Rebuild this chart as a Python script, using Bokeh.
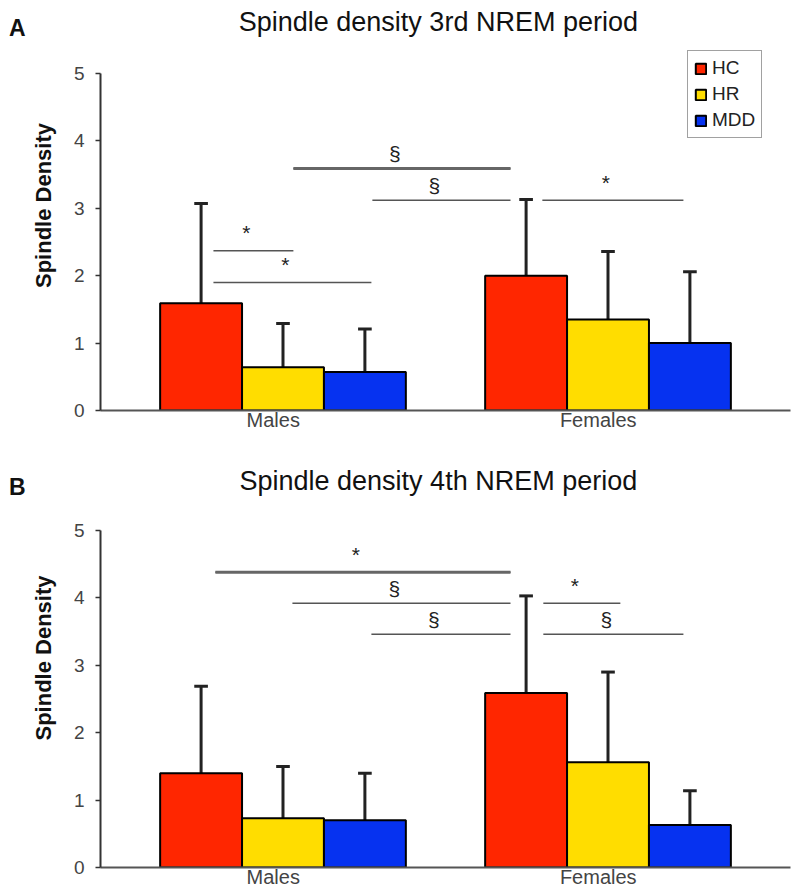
from bokeh.plotting import figure
from bokeh.layouts import column
from bokeh.models import (ColumnDataSource, Legend, LegendItem, FixedTicker,
                          Label, LinearAxis)
from bokeh.core.properties import value
from bokeh.embed import file_html
from bokeh.resources import INLINE

FONT = "Liberation Sans"

groups = ["Males", "Females"]
subgroups = ["HC", "HR", "MDD"]
colors = ["#FF2600", "#FFDD00", "#0632F0"]

# Panel A: 3rd NREM period (means and SD, per group: HC, HR, MDD)
a_males_mean = [1.59, 0.64, 0.57]
a_females_mean = [2.00, 1.35, 1.00]
a_males_sd = [1.48, 0.65, 0.64]
a_females_sd = [1.13, 1.01, 1.06]

# Panel B: 4th NREM period
b_males_mean = [1.40, 0.73, 0.70]
b_females_mean = [2.59, 1.56, 0.63]
b_males_sd = [1.29, 0.77, 0.70]
b_females_sd = [1.44, 1.34, 0.51]

# significance brackets: start, end, height, label
a_sig_x0 = [1.032, 1.275, 1.798, 0.786, 0.786]
a_sig_x1 = [1.700, 1.700, 2.232, 1.032, 1.272]
a_sig_y = [3.59, 3.12, 3.12, 2.37, 1.90]
a_sig_lab = ["§", "§", "*", "*", "*"]

b_sig_x0 = [0.792, 1.029, 1.272, 1.801, 1.801]
b_sig_x1 = [1.700, 1.700, 1.700, 2.038, 2.232]
b_sig_y = [4.38, 3.92, 3.46, 3.92, 3.46]
b_sig_lab = ["*", "§", "§", "*", "§"]

y_ticks = [0, 1, 2, 3, 4, 5]
BAR_W = 0.252
LAB_RAISE = {"§": -15, "*": -18}


def build(title, letter, m_mean, f_mean, m_sd, f_sd, sx0, sx1, sy, slab,
          height, y_top, bottom, title_y, letter_y, show_legend):
    p = figure(width=800, height=height, x_range=(0.4385, 2.5615),
               y_range=(0, y_top),
               output_backend="svg", toolbar_location=None,
               min_border_left=100, min_border_right=10,
               min_border_top=0, min_border_bottom=bottom)
    p.outline_line_color = None
    p.xgrid.visible = False
    p.ygrid.visible = False
    p.background_fill_color = "white"

    renderers = []
    for i, sg in enumerate(subgroups):
        xs = [g + 1 + (i - 1) * BAR_W for g in range(len(groups))]
        tops = [m_mean[i], f_mean[i]]
        sds = [m_sd[i], f_sd[i]]
        src = ColumnDataSource(dict(x=xs, top=tops,
                                    up=[t + s for t, s in zip(tops, sds)],
                                    cl=[x - 0.021 for x in xs],
                                    cr=[x + 0.021 for x in xs]))
        p.segment(x0="x", y0="top", x1="x", y1="up", source=src,
                  line_color="#222222", line_width=3)
        p.segment(x0="cl", y0="up", x1="cr", y1="up", source=src,
                  line_color="#222222", line_width=3)
        r = p.vbar(x="x", top="top", width=BAR_W, bottom=0, source=src,
                   fill_color=colors[i], line_color="black", line_width=2)
        renderers.append(r)

    # significance lines
    ssrc = ColumnDataSource(dict(x0=sx0, x1=sx1, y=sy, lab=slab,
                                 xm=[(a + b) / 2 for a, b in zip(sx0, sx1)],
                                 dy=[LAB_RAISE[s] for s in slab]))
    p.segment(x0="x0", y0="y", x1="x1", y1="y", source=ssrc,
              line_color="#555555", line_width=1.6)
    p.segment(x0=[sx0[0]], y0=[sy[0]], x1=[sx1[0]], y1=[sy[0]],
              line_color="#666666", line_width=3)
    p.text(x="xm", y="y", text="lab", source=ssrc, text_align="center",
           text_baseline="middle", x_offset=-7, y_offset="dy",
           text_font=value(FONT), text_font_size="21px", text_color="#222222")

    # axes
    ya = p.yaxis[0]
    ya.ticker = FixedTicker(ticks=y_ticks)
    ya.bounds = (0, 5)
    ya.major_tick_out = 5
    ya.major_tick_in = 0
    ya.minor_tick_out = 0
    ya.minor_tick_in = 0
    ya.axis_line_color = "#333333"
    ya.axis_line_width = 2
    ya.major_tick_line_color = "#333333"
    ya.major_tick_line_width = 1.5
    ya.major_label_text_font = FONT
    ya.major_label_text_font_size = "19px"
    ya.major_label_text_color = "#444444"
    ya.major_label_standoff = 11
    ya.axis_label = "Spindle Density"
    ya.axis_label_text_font = FONT
    ya.axis_label_text_font_style = "bold"
    ya.axis_label_text_font_size = "22px"
    ya.axis_label_text_color = "#111111"
    ya.axis_label_standoff = 15

    # panel letter, as the single tick label of an extra bare axis
    la = LinearAxis(ticker=FixedTicker(ticks=[letter_y]),
                    major_label_overrides={letter_y: letter},
                    axis_line_color=None, major_tick_line_color=None,
                    minor_tick_line_color=None, major_tick_out=0,
                    major_tick_in=0, major_label_standoff=2,
                    major_label_text_font=FONT,
                    major_label_text_font_style="bold",
                    major_label_text_font_size="23px",
                    major_label_text_color="#111111")
    p.add_layout(la, "left")

    xa = p.xaxis[0]
    xa.ticker = FixedTicker(ticks=[0.97, 1.97])
    xa.major_label_overrides = {0.97: groups[0], 1.97: groups[1]}
    xa.major_tick_out = 0
    xa.major_tick_in = 0
    xa.minor_tick_out = 0
    xa.minor_tick_in = 0
    xa.axis_line_color = "#555555"
    xa.axis_line_width = 2
    xa.major_label_text_font = FONT
    xa.major_label_text_font_size = "20px"
    xa.major_label_text_color = "#444444"
    xa.major_label_standoff = -2

    p.add_layout(Label(x=1.478, y=title_y, text=title, text_align="center",
                       text_baseline="middle", text_font=FONT,
                       text_font_size="27px", text_color="#111111"))

    if show_legend:
        legend = Legend(items=[LegendItem(label=s, renderers=[r])
                               for s, r in zip(subgroups, renderers)],
                        location=(587, 272), margin=0, padding=6, spacing=4,
                        glyph_width=13, glyph_height=13, label_height=19,
                        label_standoff=5, label_text_font=FONT,
                        label_text_font_size="19px", label_text_color="#222222",
                        border_line_color="#444444", border_line_width=1.5,
                        background_fill_color="white", background_fill_alpha=1)
        p.add_layout(legend)
    return p


pA = build("Spindle density 3rd NREM period", "A",
           a_males_mean, a_females_mean, a_males_sd, a_females_sd,
           a_sig_x0, a_sig_x1, a_sig_y, a_sig_lab,
           height=448, y_top=6.083, bottom=38, title_y=5.757, letter_y=5.68,
           show_legend=True)
pB = build("Spindle density 4th NREM period", "B",
           b_males_mean, b_females_mean, b_males_sd, b_females_sd,
           b_sig_x0, b_sig_x1, b_sig_y, b_sig_lab,
           height=446, y_top=6.217, bottom=27, title_y=5.742, letter_y=5.64,
           show_legend=False)

layout = column(pA, pB)
open("out.html", "w").write(file_html(layout, INLINE))
